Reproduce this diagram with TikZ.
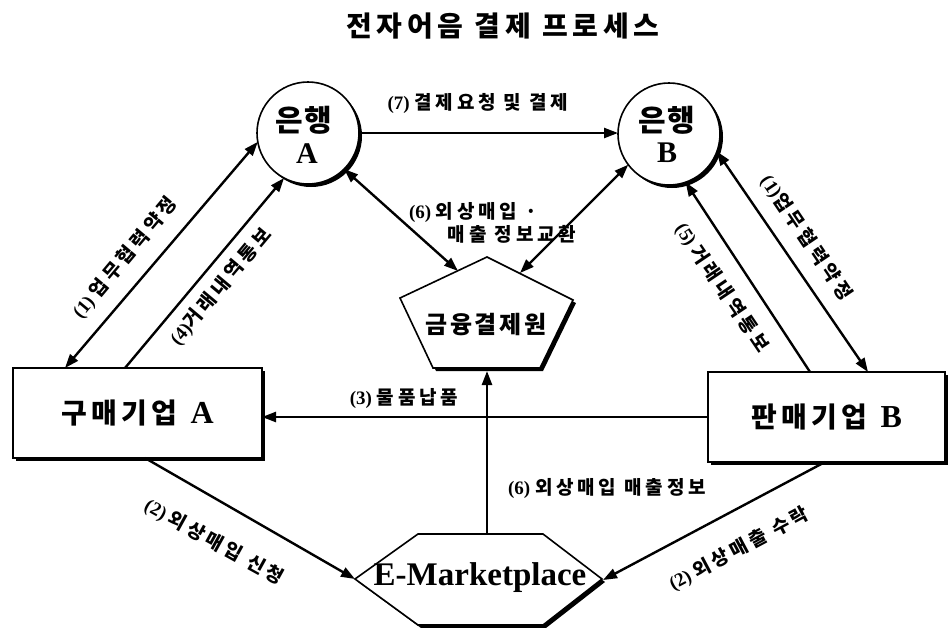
\documentclass[tikz,border=0pt]{standalone}
\usepackage{fontspec}
\setmainfont{Liberation Serif}
\newfontfamily\krfont{Noto Sans CJK KR}
\usetikzlibrary{arrows.meta,shadows,calc}
\newcommand\krtxt[2]{{\krfont\addfontfeature{LetterSpace=#1}#2}}
\begin{document}
\begin{tikzpicture}[x=1pt,y=-1pt,
  every node/.style={inner sep=0pt, outer sep=0pt},
  conn/.style={line width=2.4pt, -{Triangle[length=14pt,width=10pt]}},
  conn2/.style={line width=2.4pt, {Triangle[length=14pt,width=10pt]}-{Triangle[length=14pt,width=10pt]}},
  shadowed/.style={drop shadow={shadow xshift=3pt, shadow yshift=-3pt, opacity=1, fill=black}},
  bank/.style={circle, draw, line width=1.6pt, fill=white, minimum size=102pt, shadowed},
  firm/.style={rectangle, draw, line width=1.6pt, fill=white, minimum width=249pt, minimum height=90pt, shadowed},
  polyline/.style={draw, line width=1.6pt, fill=white},
  lab/.style={font=\fontsize{19}{21}\selectfont\bfseries},
  banktxt/.style={font=\fontsize{30}{30}\selectfont\bfseries},
  firmtxt/.style={font=\fontsize{28}{30}\selectfont\bfseries},
]
\useasboundingbox (0,0) rectangle (949,627);

% title
\node[font=\fontsize{28}{30}\selectfont\bfseries] (title) at (503,26) {\krtxt{17}{전자어음 결제 프로세스}};

% banks
\node[bank] (bA) at (308,133) {};
\node[banktxt] (bAt) at (304,120) {\krtxt{5}{은행}};
\node[banktxt] (bAl) at (307,154) {A};
\node[bank] (bB) at (669,134) {};
\node[banktxt] (bBt) at (667,120) {\krtxt{5}{은행}};
\node[banktxt] (bBl) at (667,153) {B};

% firms
\node[firm, firmtxt] (cA) at (137.5,413) {\krtxt{16}{구매기업}\hspace{13pt}{\fontsize{32}{32}\selectfont A}};
\node[firm, firmtxt, minimum width=237pt] (cB) at (826.5,417) {\krtxt{16}{판매기업}\hspace{13pt}{\fontsize{32}{32}\selectfont B}};

% pentagon (financial clearing)
\begin{scope}[shift={(3,3)}]
\fill (487,257) -- (573,300) -- (540,368) -- (433,368) -- (400,298) -- cycle;
\end{scope}
\path[polyline] (487,257) -- (573,300) -- (540,368) -- (433,368) -- (400,298) -- cycle;
\node[font=\fontsize{24}{26}\selectfont\bfseries] (pent) at (486,325) {\krtxt{12}{금융결제원}};
\coordinate (pA) at (458,271);
\coordinate (pB) at (520,273);
\coordinate (pC) at (487,371);

% hexagon (E-Marketplace)
\begin{scope}[shift={(3,3)}]
\fill (355,579) -- (418,534) -- (543,534) -- (602,579) -- (543,625) -- (418,625) -- cycle;
\end{scope}
\path[polyline] (355,579) -- (418,534) -- (543,534) -- (602,579) -- (543,625) -- (418,625) -- cycle;
\node[font=\fontsize{33}{35}\selectfont\bfseries] (emk) at (480,578) {E-Marketplace};
\coordinate (hL) at (355,579);
\coordinate (hR) at (603,580);
\coordinate (hT) at (487,534);

% connectors
\draw[conn] (bA.east) -- (bA.east -| bB.west);
\draw[conn2] (bA.190) -- ([xshift=52pt]cA.north west);
\draw[conn] ([xshift=112pt]cA.north west) -- (bA.242);
\draw[conn2] (bA.-45) -- (pA);
\draw[conn2] (bB.217) -- (pB);
\draw[conn2] (bB.-20) -- ([xshift=160pt]cB.north west);
\draw[conn] ([xshift=102pt]cB.north west) -- (bB.-71);
\draw[conn] (cB.west) -- (cB.west -| cA.east);
\draw[conn] (hT) -- (pC);
\draw[conn] ([xshift=132pt]cA.south west) -- (hL);
\draw[conn] ([xshift=117pt]cB.south west) -- (hR);

% labels
\node[lab] (l7) at (478,103) {(7) \krtxt{20}{결제요청 및 결제}};
\node[lab, rotate=50] (l1a) at (125,258) {(1) \krtxt{20}{업무협력약정}};
\node[lab, rotate=50] (l4) at (221,287) {(4)\krtxt{20}{거래내역통보}};
\node[lab] (l6a) at (473,212) {(6) \krtxt{20}{외상매입 ·}};
\node[lab] (l6b) at (512,234) {\krtxt{20}{매출 정보교환}};
\node[lab, rotate=-56] (l1b) at (806,238) {(1)\krtxt{20}{업무협력약정}};
\node[lab, rotate=-56] (l5) at (722,288) {(5) \krtxt{20}{거래내역통보}};
\node[lab] (l3) at (404,398) {(3) \krtxt{20}{물품납품}};
\node[lab] (l6c) at (607,488) {(6) \krtxt{20}{외상매입 매출정보}};
\node[lab, rotate=-29] (l2a) at (214,542) {(2) \krtxt{20}{외상매입 신청}};
\node[lab, rotate=28] (l2b) at (739,549) {(2) \krtxt{20}{외상매출 수락}};
\end{tikzpicture}
\end{document}
